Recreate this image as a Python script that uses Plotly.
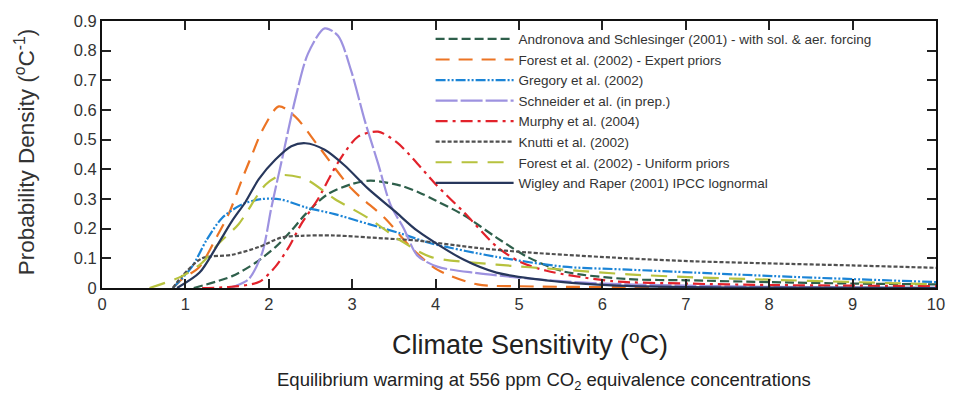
import plotly.graph_objects as go

# ---------------- data ----------------
names = [
    "Andronova and Schlesinger (2001) - with sol. & aer. forcing",
    "Forest et al. (2002) - Expert priors",
    "Gregory et al. (2002)",
    "Schneider et al. (in prep.)",
    "Murphy et al. (2004)",
    "Knutti et al. (2002)",
    "Forest et al. (2002) - Uniform priors",
    "Wigley and Raper (2001) IPCC lognormal",
]

andronova_x = [1.1, 1.56, 1.84, 2.08, 2.27, 2.44, 2.7, 2.99, 3.22, 3.58, 3.8, 4.0, 4.34, 4.73, 5.1, 5.53, 6.3, 7.0, 8.0, 9.0, 10.0]
andronova_y = [0.0, 0.04, 0.085, 0.138, 0.193, 0.249, 0.315, 0.35, 0.362, 0.345, 0.322, 0.295, 0.245, 0.17, 0.105, 0.056, 0.03, 0.026, 0.02, 0.015, 0.012]

forest_exp_x = [0.85, 0.96, 1.17, 1.37, 1.52, 1.68, 1.8, 1.92, 2.12, 2.32, 2.59, 2.99, 3.39, 3.7, 4.02, 4.5, 5.0, 6.0, 7.0, 8.0, 10.0]
forest_exp_y = [0.0, 0.03, 0.072, 0.17, 0.25, 0.367, 0.45, 0.53, 0.612, 0.577, 0.48, 0.335, 0.236, 0.138, 0.062, 0.012, 0.006, 0.003, 0.002, 0.001, 0.0]

gregory_x = [0.85, 1.08, 1.25, 1.44, 1.68, 1.92, 2.15, 2.44, 2.79, 3.19, 3.58, 3.94, 4.73, 5.53, 6.31, 7.1, 8.06, 9.0, 10.0]
gregory_y = [0.0, 0.072, 0.16, 0.236, 0.282, 0.30, 0.298, 0.272, 0.249, 0.216, 0.184, 0.151, 0.105, 0.072, 0.062, 0.052, 0.04, 0.03, 0.02]

schneider_x = [1.5, 1.6, 1.76, 1.92, 2.03, 2.15, 2.32, 2.47, 2.67, 2.83, 2.99, 3.15, 3.31, 3.46, 3.62, 3.78, 4.02, 4.5, 5.0, 5.5, 6.0, 7.0, 8.0, 10.0]
schneider_y = [0.0, 0.007, 0.03, 0.118, 0.27, 0.423, 0.64, 0.79, 0.875, 0.85, 0.73, 0.565, 0.42, 0.28, 0.20, 0.11, 0.072, 0.05, 0.035, 0.023, 0.015, 0.008, 0.004, 0.001]

murphy_x = [1.2, 1.5, 1.88, 2.08, 2.24, 2.39, 2.59, 2.83, 3.07, 3.31, 3.54, 3.78, 4.0, 4.34, 4.73, 5.0, 5.33, 6.12, 7.0, 8.0, 9.0, 10.0]
murphy_y = [0.0, 0.003, 0.02, 0.072, 0.138, 0.216, 0.30, 0.423, 0.51, 0.527, 0.49, 0.42, 0.35, 0.255, 0.14, 0.09, 0.058, 0.023, 0.015, 0.01, 0.008, 0.006]

knutti_x = [0.85, 0.96, 1.2, 1.56, 1.88, 2.15, 2.39, 2.79, 3.39, 3.78, 4.5, 5.1, 6.3, 7.1, 8.0, 9.0, 10.0]
knutti_y = [0.0, 0.04, 0.10, 0.112, 0.138, 0.17, 0.176, 0.177, 0.167, 0.16, 0.135, 0.12, 0.10, 0.09, 0.083, 0.076, 0.068]

forest_uni_x = [0.57, 0.96, 1.2, 1.4, 1.64, 1.96, 2.15, 2.44, 2.79, 3.19, 3.58, 3.94, 4.73, 5.53, 6.31, 7.1, 8.0, 9.0, 10.0]
forest_uni_y = [0.0, 0.04, 0.085, 0.15, 0.216, 0.348, 0.38, 0.367, 0.30, 0.236, 0.16, 0.105, 0.079, 0.062, 0.046, 0.036, 0.028, 0.02, 0.012]

wigley_x = [0.9, 1.17, 1.37, 1.56, 1.72, 1.88, 2.08, 2.27, 2.44, 2.67, 2.91, 3.19, 3.51, 3.78, 4.34, 4.73, 5.53, 6.3, 7.0, 8.0, 10.0]
wigley_y = [0.0, 0.052, 0.138, 0.226, 0.29, 0.367, 0.433, 0.478, 0.488, 0.466, 0.413, 0.335, 0.259, 0.193, 0.095, 0.052, 0.02, 0.007, 0.003, 0.001, 0.0]

x_ticks = [0, 1, 2, 3, 4, 5, 6, 7, 8, 9, 10]
y_ticks = [0, 0.1, 0.2, 0.3, 0.4, 0.5, 0.6, 0.7, 0.8, 0.9]
y_tick_labels = ["0", "0.1", "0.2", "0.3", "0.4", "0.5", "0.6", "0.7", "0.8", "0.9"]

# ---------------- styles ----------------
series = [
    (andronova_x, andronova_y, "#2e5f4b", "9px,4px"),
    (forest_exp_x, forest_exp_y, "#ec7424", "14px,9px"),
    (gregory_x, gregory_y, "#1b84d6", "10px,2px,2px,2px,2px,2px"),
    (schneider_x, schneider_y, "#9d92e0", "22px,3px"),
    (murphy_x, murphy_y, "#e2222b", "12px,5px,3px,5px"),
    (knutti_x, knutti_y, "#505050", "4px,2px"),
    (forest_uni_x, forest_uni_y, "#b7c23e", "16px,10px"),
    (wigley_x, wigley_y, "#27375c", "solid"),
]

FONT = "Liberation Sans, Arial, Helvetica, sans-serif"

fig = go.Figure()
for name, (xs, ys, col, dash) in zip(names, series):
    fig.add_trace(go.Scatter(
        x=xs, y=ys, mode="lines", name=name,
        line=dict(color=col, width=2.2, dash=dash, shape="spline", smoothing=0.8),
    ))

axis_common = dict(
    ticks="inside", ticklen=9, tickwidth=1.5, tickcolor="#222",
    showline=True, linecolor="#111", linewidth=2, mirror="allticks",
    showgrid=False, zeroline=False, layer="above traces",
    tickfont=dict(family=FONT, size=16.5, color="#333"),
)

fig.update_layout(
    width=957, height=393,
    margin=dict(l=102, r=14, t=14, b=105),
    paper_bgcolor="white", plot_bgcolor="white",
    font=dict(family=FONT, color="#333333"),
    showlegend=True,
    legend=dict(
        x=0.394, y=0.99, xanchor="left", yanchor="top",
        bgcolor="rgba(0,0,0,0)", borderwidth=0,
        font=dict(family=FONT, size=13.5, color="#333333"),
        itemwidth=78, tracegroupgap=0,
    ),
    xaxis=dict(range=[0, 10], tickvals=x_ticks, ticktext=[str(v) for v in x_ticks],
               **axis_common),
    yaxis=dict(range=[0, 0.9], tickvals=y_ticks, ticktext=y_tick_labels,
               **axis_common),
    annotations=[
        dict(text="Probability Density (<sup>o</sup>C<sup>-1</sup>)", textangle=-90,
             x=-0.093, y=0.51, xref="paper", yref="paper", xanchor="center", yanchor="middle",
             showarrow=False, font=dict(family=FONT, size=22.5, color="#333")),
        dict(text="Climate Sensitivity (<sup>o</sup>C)",
             x=0.513, y=-0.205, xref="paper", yref="paper", xanchor="center", yanchor="middle",
             showarrow=False, font=dict(family=FONT, size=27, color="#222")),
        dict(text="Equilibrium warming at 556 ppm CO<sub>2</sub> equivalence concentrations",
             x=0.53, y=-0.35, xref="paper", yref="paper", xanchor="center", yanchor="middle",
             showarrow=False, font=dict(family=FONT, size=18.5, color="#222")),
    ],
)

fig.write_html("out.html")
